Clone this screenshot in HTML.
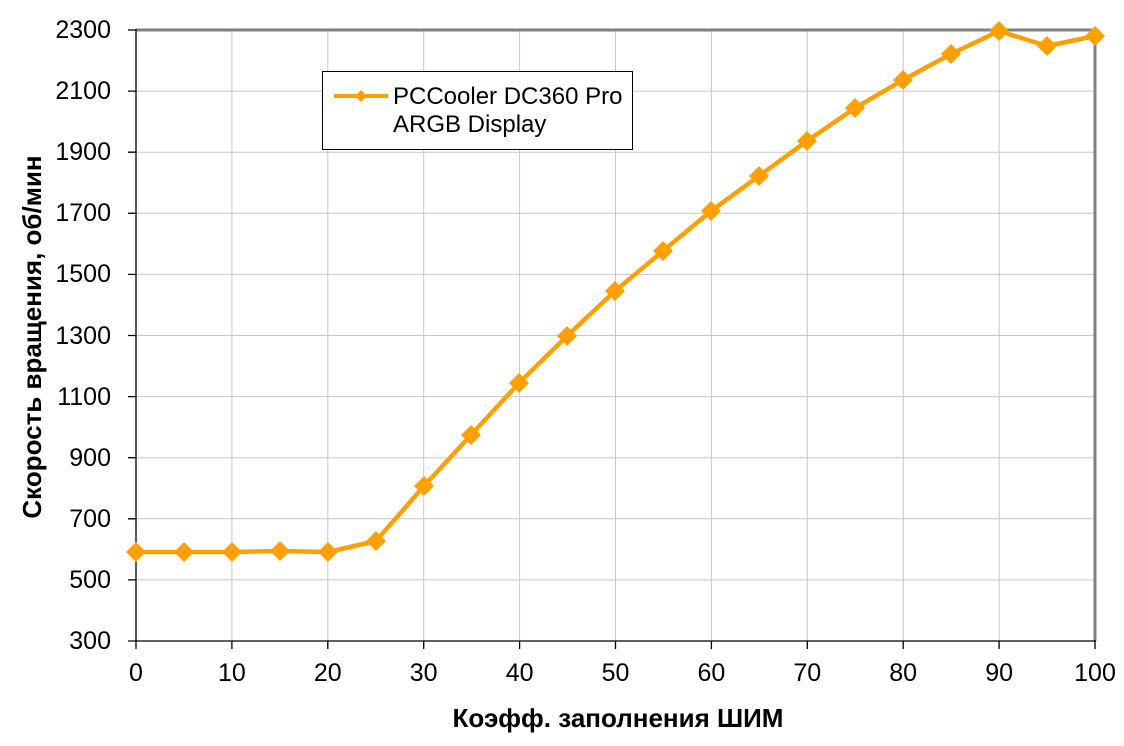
<!DOCTYPE html>
<html><head><meta charset="utf-8"><style>body{margin:0;background:#fff}</style></head><body>
<svg width="1124" height="741" xmlns="http://www.w3.org/2000/svg" font-family="Liberation Sans, Arial, sans-serif">
<rect width="1124" height="741" fill="#fff"/>
<g stroke="#c8c8c8" stroke-width="1">
<line x1="136" y1="91.1" x2="1095" y2="91.1"/><line x1="136" y1="152.2" x2="1095" y2="152.2"/><line x1="136" y1="213.3" x2="1095" y2="213.3"/><line x1="136" y1="274.4" x2="1095" y2="274.4"/><line x1="136" y1="335.5" x2="1095" y2="335.5"/><line x1="136" y1="396.6" x2="1095" y2="396.6"/><line x1="136" y1="457.7" x2="1095" y2="457.7"/><line x1="136" y1="518.8" x2="1095" y2="518.8"/><line x1="136" y1="579.9" x2="1095" y2="579.9"/>
<line x1="231.9" y1="30" x2="231.9" y2="641"/><line x1="327.8" y1="30" x2="327.8" y2="641"/><line x1="423.7" y1="30" x2="423.7" y2="641"/><line x1="519.6" y1="30" x2="519.6" y2="641"/><line x1="615.5" y1="30" x2="615.5" y2="641"/><line x1="711.4" y1="30" x2="711.4" y2="641"/><line x1="807.3" y1="30" x2="807.3" y2="641"/><line x1="903.2" y1="30" x2="903.2" y2="641"/><line x1="999.1" y1="30" x2="999.1" y2="641"/>
</g>
<g stroke="#808080" stroke-width="3">
<line x1="136" y1="30" x2="1095" y2="30"/><line x1="1095" y1="30" x2="1095" y2="641"/>
</g>
<g stroke="#000" stroke-width="1.3">
<line x1="136" y1="29" x2="136" y2="641"/><line x1="136" y1="641" x2="1096" y2="641"/>
<path d="M128,30H136M128,91.1H136M128,152.2H136M128,213.3H136M128,274.4H136M128,335.5H136M128,396.6H136M128,457.7H136M128,518.8H136M128,579.9H136M128,641H136"/>
<path d="M136,641V649M231.9,641V649M327.8,641V649M423.7,641V649M519.6,641V649M615.5,641V649M711.4,641V649M807.3,641V649M903.2,641V649M999.1,641V649M1095,641V649"/>
</g>
<g font-size="25" fill="#000" text-anchor="end">
<text x="111" y="38">2300</text><text x="111" y="99">2100</text><text x="111" y="160">1900</text><text x="111" y="221">1700</text><text x="111" y="282">1500</text><text x="111" y="344">1300</text><text x="111" y="405">1100</text><text x="111" y="466">900</text><text x="111" y="527">700</text><text x="111" y="588">500</text><text x="111" y="649">300</text>
</g>
<g font-size="25" fill="#000" text-anchor="middle">
<text x="136" y="681">0</text><text x="231.9" y="681">10</text><text x="327.8" y="681">20</text><text x="423.7" y="681">30</text><text x="519.6" y="681">40</text><text x="615.5" y="681">50</text><text x="711.4" y="681">60</text><text x="807.3" y="681">70</text><text x="903.2" y="681">80</text><text x="999.1" y="681">90</text><text x="1095" y="681">100</text>
</g>
<text x="618" y="727" font-size="26" font-weight="bold" text-anchor="middle">Коэфф. заполнения ШИМ</text>
<text transform="translate(41,337) rotate(-90)" font-size="26" font-weight="bold" text-anchor="middle">Скорость вращения, об/мин</text>
<polyline fill="none" stroke="#FFA000" stroke-width="4.5" stroke-linejoin="round" points="136,552 184,552 232,552 280,551 328,552 376,541 424,486 471,435 519,383 567,336 615,291 663,251 711,211 759,176 807,141 855,108 903,80 951,54 999,31 1047,46 1095,36"/>
<g fill="#FFA000">
<path d="M0,-10 L10,0 L0,10 L-10,0Z" transform="translate(136,552)"/>
<path d="M0,-10 L10,0 L0,10 L-10,0Z" transform="translate(184,552)"/><path d="M0,-10 L10,0 L0,10 L-10,0Z" transform="translate(232,552)"/><path d="M0,-10 L10,0 L0,10 L-10,0Z" transform="translate(280,551)"/><path d="M0,-10 L10,0 L0,10 L-10,0Z" transform="translate(328,552)"/><path d="M0,-10 L10,0 L0,10 L-10,0Z" transform="translate(376,541)"/><path d="M0,-10 L10,0 L0,10 L-10,0Z" transform="translate(424,486)"/><path d="M0,-10 L10,0 L0,10 L-10,0Z" transform="translate(471,435)"/><path d="M0,-10 L10,0 L0,10 L-10,0Z" transform="translate(519,383)"/><path d="M0,-10 L10,0 L0,10 L-10,0Z" transform="translate(567,336)"/><path d="M0,-10 L10,0 L0,10 L-10,0Z" transform="translate(615,291)"/><path d="M0,-10 L10,0 L0,10 L-10,0Z" transform="translate(663,251)"/><path d="M0,-10 L10,0 L0,10 L-10,0Z" transform="translate(711,211)"/><path d="M0,-10 L10,0 L0,10 L-10,0Z" transform="translate(759,176)"/><path d="M0,-10 L10,0 L0,10 L-10,0Z" transform="translate(807,141)"/><path d="M0,-10 L10,0 L0,10 L-10,0Z" transform="translate(855,108)"/><path d="M0,-10 L10,0 L0,10 L-10,0Z" transform="translate(903,80)"/><path d="M0,-10 L10,0 L0,10 L-10,0Z" transform="translate(951,54)"/><path d="M0,-10 L10,0 L0,10 L-10,0Z" transform="translate(999,31)"/><path d="M0,-10 L10,0 L0,10 L-10,0Z" transform="translate(1047,46)"/><path d="M0,-10 L10,0 L0,10 L-10,0Z" transform="translate(1095,36)"/>
</g>
<rect x="322.5" y="71.5" width="310" height="78" fill="#fff" stroke="#000" stroke-width="1"/>
<line x1="334" y1="96" x2="388" y2="96" stroke="#FFA000" stroke-width="4"/>
<path d="M0,-6 L6,0 L0,6 L-6,0Z" transform="translate(361,96)" fill="#FFA000"/>
<text x="393" y="104" font-size="24">PCCooler DC360 Pro</text>
<text x="393" y="132" font-size="24">ARGB Display</text>
</svg>
</body></html>
